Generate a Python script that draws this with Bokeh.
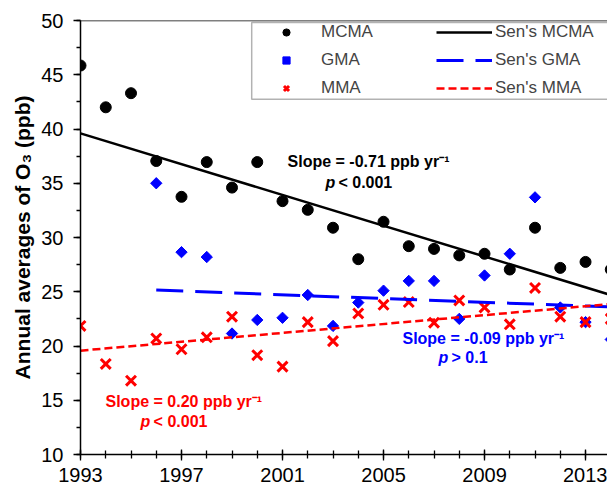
from bokeh.plotting import figure
from bokeh.models import (Range1d, Legend, LegendItem, Label, Span, BoxAnnotation,
                          FixedTicker)
from bokeh.embed import file_html
from bokeh.resources import INLINE

# ---------------- data ----------------
years_mcma = list(range(1993, 2015))
mcma = [45.85, 42.0, 43.3, 37.05, 33.75, 36.95, 34.6, 36.95, 33.35, 32.55, 30.9,
        28.0, 31.45, 29.2, 28.95, 28.35, 28.5, 27.05, 30.9, 27.2, 27.75, 27.05]

years_gma = list(range(1996, 2015))
gma = [35.0, 28.65, 28.2, 21.15, 22.4, 22.6, 24.7, 21.85, 24.0, 25.1, 26.0,
       26.0, 22.5, 26.5, 28.5, 33.7, 23.55, 22.2, 20.6]

years_mma = list(range(1993, 2015))
mma = [21.85, 18.35, 16.8, 20.7, 19.7, 20.8, 22.7, 19.15, 18.1, 22.2, 20.45,
       23.0, 23.8, 24.05, 22.15, 24.2, 23.55, 22.0, 25.35, 22.7, 22.2, 22.5]

# Sen's slope trend lines (start / end)
sen_mcma_x = [1993, 2014]
sen_mcma_y = [39.6, 24.7]
sen_gma_x = [1996, 2014]
sen_gma_y = [25.15, 23.6]
sen_mma_x = [1993, 2014]
sen_mma_y = [19.57, 23.87]

x_major_ticks = [1993, 1997, 2001, 2005, 2009, 2013]
x_minor_ticks = list(range(1993, 2015))
y_major_ticks = [10, 15, 20, 25, 30, 35, 40, 45, 50]
y_minor_ticks = [10 + 2.5 * i for i in range(17)]

series_names = ["MCMA", "GMA", "MMA"]
sen_names = ["Sen's MCMA", "Sen's GMA", "Sen's MMA"]
slope_texts = ["Slope = -0.71 ppb yr\u207b\u00b9", "Slope = -0.09 ppb yr\u207b\u00b9",
               "Slope = 0.20 ppb yr\u207b\u00b9"]
p_texts = ["< 0.001", "> 0.1", "< 0.001"]

FONT = "Liberation Sans"

# ---------------- figure ----------------
p = figure(width=607, height=490, output_backend="svg", toolbar_location=None,
           x_range=Range1d(1993, 2013.87), y_range=Range1d(10, 50),
           min_border_left=80, min_border_right=0, min_border_top=20,
           min_border_bottom=36)
p.outline_line_color = None
p.xgrid.visible = False
p.ygrid.visible = False
p.background_fill_color = "white"

# scatter
r_mcma = p.scatter(years_mcma, mcma, marker="circle", size=11, color="black")
r_gma = p.scatter(years_gma, gma, marker="square", size=8, angle=0.785398,
                  color="#0000ff")
r_mma = p.scatter(years_mma, mma, marker="x", size=14, line_width=3,
                  line_color="#ff0000")

# trend lines
l_mcma = p.line(sen_mcma_x, sen_mcma_y, line_color="black", line_width=2.5)
l_gma = p.line(sen_gma_x, sen_gma_y, line_color="#0000ff", line_width=3,
               line_dash="27 12")
l_mma = p.line(sen_mma_x, sen_mma_y, line_color="#ff0000", line_width=2.5,
               line_dash="8 4")

# top border
p.add_layout(Span(location=50, dimension="width", line_color="black",
                  line_width=1.5))

# axes
xa = p.xaxis[0]
xa.ticker = FixedTicker(ticks=x_major_ticks, minor_ticks=x_minor_ticks)
xa.major_tick_in = 5
xa.major_tick_out = 6
xa.minor_tick_in = 4
xa.minor_tick_out = 4
xa.major_label_text_font = FONT
xa.major_label_text_font_size = "20px"
xa.major_label_text_color = "black"
xa.major_label_standoff = 7
xa.axis_line_width = 1.5
xa.major_tick_line_width = 1.3
xa.minor_tick_line_width = 1.3

ya = p.yaxis[0]
ya.ticker = FixedTicker(ticks=y_major_ticks, minor_ticks=y_minor_ticks)
ya.major_tick_in = 0
ya.major_tick_out = 7
ya.minor_tick_in = 0
ya.minor_tick_out = 4
ya.major_label_text_font = FONT
ya.major_label_text_font_size = "20px"
ya.major_label_text_color = "black"
ya.major_label_standoff = 10
ya.axis_line_width = 1.5
ya.major_tick_line_width = 1.3
ya.minor_tick_line_width = 1.3
ya.axis_label = "Annual averages of O\u2083 (ppb)"
ya.axis_label_text_font = FONT
ya.axis_label_text_font_size = "21px"
ya.axis_label_text_font_style = "bold"
ya.axis_label_text_color = "black"
ya.axis_label_standoff = 4

# legend box
p.add_layout(BoxAnnotation(left=1999.78, right=2040, top=49.82, bottom=42.75,
                           fill_alpha=0, line_color="black", line_width=1.5,
                           level="overlay"))

leg_common = dict(border_line_color=None, background_fill_alpha=0, margin=0,
                  padding=4, spacing=8, glyph_height=18, label_height=18,
                  label_text_font=FONT, label_text_font_size="17px")
leg_a = Legend(items=[LegendItem(label=series_names[0], renderers=[r_mcma]),
                      LegendItem(label=series_names[1], renderers=[r_gma]),
                      LegendItem(label=series_names[2], renderers=[r_mma])],
               location=(186, 356), glyph_width=40, label_standoff=15,
               **leg_common)
leg_b = Legend(items=[LegendItem(label=sen_names[0], renderers=[l_mcma]),
                      LegendItem(label=sen_names[1], renderers=[l_gma]),
                      LegendItem(label=sen_names[2], renderers=[l_mma])],
               location=(356, 356), glyph_width=56, label_standoff=3,
               **leg_common)
p.add_layout(leg_a)
p.add_layout(leg_b)

# annotations
ann_pos = [  # (slope x, slope y, p x, p y, color)
    (2001.2, 36.97, 2002.7, 35.05, "black"),
    (2005.75, 20.73, 2007.18, 18.9, "#0000ff"),
    (1993.99, 14.86, 1995.38, 13.03, "#ff0000"),
]
for (sx, sy, px, py, col), st, pt in zip(ann_pos, slope_texts, p_texts):
    p.add_layout(Label(x=sx, y=sy, text=st, text_font=FONT, text_font_size="16px",
                       text_font_style="bold", text_color=col,
                       text_baseline="middle"))
    p.add_layout(Label(x=px, y=py, text="p", text_font=FONT, text_font_size="16px",
                       text_font_style="bold italic", text_color=col,
                       text_baseline="middle"))
    p.add_layout(Label(x=px, y=py, x_offset=13, text=pt, text_font=FONT,
                       text_font_size="16px", text_font_style="bold",
                       text_color=col, text_baseline="middle"))

open("out.html", "w").write(file_html(p, INLINE))
